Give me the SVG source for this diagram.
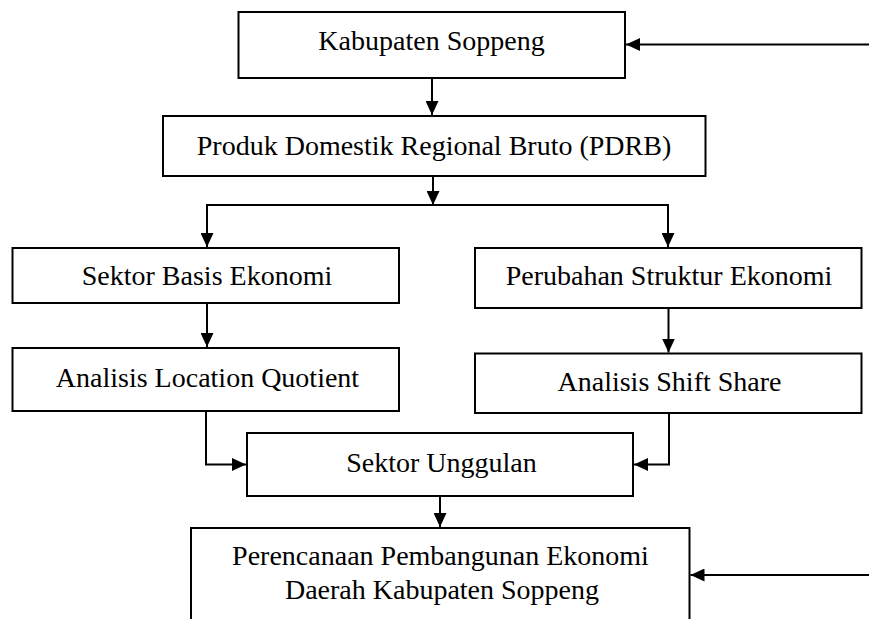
<svg xmlns="http://www.w3.org/2000/svg" width="869" height="619" viewBox="0 0 869 619">
<style>
.box{fill:#fff;stroke:#000;stroke-width:2}
.c{fill:none;stroke:#000;stroke-width:2}
</style>
<defs>
<marker id="ah" markerUnits="userSpaceOnUse" markerWidth="15" markerHeight="13" refX="14" refY="6.5" orient="auto">
<path d="M0,0 L14,6.5 L0,13 Z" fill="#000"/>
</marker>
</defs>
<rect width="869" height="619" fill="#fff"/>
<g font-family="Liberation Serif, Times New Roman, Times, serif" font-size="28" fill="#000" text-anchor="middle">
<g id="n1"><rect class="box" x="238.5" y="12" width="386.5" height="66"/><text x="431.5" y="50">Kabupaten Soppeng</text></g>
<g id="n2"><rect class="box" x="163" y="116" width="542.5" height="60"/><text x="434" y="155">Produk Domestik Regional Bruto (PDRB)</text></g>
<g id="n3"><rect class="box" x="12.5" y="248" width="386.5" height="55"/><text x="207" y="285">Sektor Basis Ekonomi</text></g>
<g id="n4"><rect class="box" x="12.5" y="348" width="386.5" height="63"/><text x="207.5" y="387">Analisis Location Quotient</text></g>
<g id="n5"><rect class="box" x="475" y="248" width="386.5" height="60"/><text x="669" y="285">Perubahan Struktur Ekonomi</text></g>
<g id="n6"><rect class="box" x="475" y="353.5" width="386.5" height="59.5"/><text x="669.5" y="391">Analisis Shift Share</text></g>
<g id="n7"><rect class="box" x="247" y="433" width="386" height="63"/><text x="441.5" y="472">Sektor Unggulan</text></g>
<g id="n8"><rect class="box" x="191" y="528" width="498.5" height="120"/><text x="440.5" y="565">Perencanaan Pembangunan Ekonomi</text><text x="442" y="599">Daerah Kabupaten Soppeng</text></g>
</g>
<g id="connectors">
<path class="c" d="M869,44.5 H626" marker-end="url(#ah)"/>
<path class="c" d="M432,78 V115" marker-end="url(#ah)"/>
<path class="c" d="M433,176 V205" marker-end="url(#ah)"/>
<path class="c" d="M206,205 H669"/>
<path class="c" d="M207,204 V247" marker-end="url(#ah)"/>
<path class="c" d="M668,204 V247" marker-end="url(#ah)"/>
<path class="c" d="M207,303 V347" marker-end="url(#ah)"/>
<path class="c" d="M668.5,308 V352.5" marker-end="url(#ah)"/>
<path class="c" d="M206,411 V464.5 H246" marker-end="url(#ah)"/>
<path class="c" d="M669,413 V464.5 H634" marker-end="url(#ah)"/>
<path class="c" d="M440,496 V527" marker-end="url(#ah)"/>
<path class="c" d="M869,575 H690.5" marker-end="url(#ah)"/>
</g>
</svg>
